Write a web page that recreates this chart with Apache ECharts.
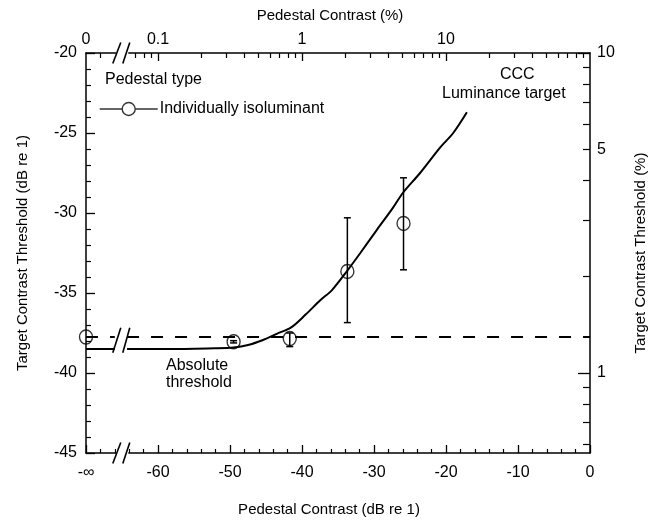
<!DOCTYPE html>
<html><head><meta charset="utf-8">
<script src="https://cdn.jsdelivr.net/npm/echarts@6/dist/echarts.min.js"></script>
<style>html,body{margin:0;padding:0;background:#fff}#c{width:660px;height:523px}</style>
</head><body><div id="c"></div>
<script>
// ---------- data (dB re 1; -70 stands for the "-∞" pedestal) ----------
const pointPedestalDb = [-70, -49.5, -41.7, -33.7, -25.9];
const pointThresholdDb = [-37.75, -38.05, -37.85, -33.65, -30.65];
const errLowDb  = [null, -38.12, -38.35, -36.85, -33.55];
const errHighDb = [null, -37.98, -37.50, -30.30, -27.80];

const curvePedestalDb  = [-70, -66.0, -65.1, -64.3, -58, -52, -49.5, -47.5, -45.5, -43.5, -41.5, -39.5, -37.5, -35.8, -33.7, -31.9, -29.6, -27.4, -26.0, -23.6, -20.8, -19.0, -17.1];
const curveThresholdDb = [-38.5, -38.5, '-', -38.5, -38.5, -38.45, -38.4, -38.25, -37.95, -37.55, -37.15, -36.35, -35.47, -34.8, -33.6, -32.5, -31.05, -29.7, -28.75, -27.5, -25.9, -25.0, -23.7];

const absPedestalDb  = [-70, -66.0, -65.1, -64.3, 0];
const absThresholdDb = [-37.75, -37.75, '-', -37.75, -37.75];

const bottomLabelValues = [-70, -60, -50, -40, -30, -20, -10, 0];
const bottomLabelTexts  = ['-∞', '-60', '-50', '-40', '-30', '-20', '-10', '0'];

const topLabelValues = [-70, -60, -40, -20];
const topLabelTexts  = ['0', '0.1', '1', '10'];
const topMajorPct = [0.1, 1, 10];
const topMinorPct = [0.07, 0.08, 0.09, 0.2, 0.3, 0.4, 0.5, 0.6, 0.7, 0.8, 0.9, 2, 3, 4, 5, 6, 7, 8, 9, 20, 30, 40, 50, 60, 70, 80, 90];
const topExtraMinorDb = [-68];

const rightLabelPct = [1, 5, 10];
const rightMajorPct = [1, 10];
const rightMinorPct = [0.6, 0.7, 0.8, 0.9, 2, 3, 4, 5, 6, 7, 8, 9];

const breakPedestalDb = -65.1;
const breakLineCenterDb = -37.95;

// ---------- helpers ----------
const pctToDb = p => 20 * Math.log10(p / 100);
const dbToPct = d => 100 * Math.pow(10, d / 20);

const FONT = 'Liberation Sans, Arial, Helvetica, sans-serif';
const black = '#000';

const chart = echarts.init(document.getElementById('c'), null, {renderer: 'canvas'});

const baseX = {min: -70, max: 0, splitLine: {show: false}};
const baseY = {min: -45, max: -20, splitLine: {show: false}};

const option = {
  backgroundColor: '#fff',
  animation: false,
  textStyle: {fontFamily: FONT, color: black},
  title: [{
    text: 'Pedestal type', left: 105, top: 72, padding: 0,
    textStyle: {fontFamily: FONT, fontSize: 16, fontWeight: 'normal', color: black}
  }],
  legend: {
    data: [{name: 'Individually isoluminant',
      icon: 'path://M0,7L22.5,7M35.5,7L58,7M22.5,7A6.5,6.5,0,1,1,35.5,7A6.5,6.5,0,1,1,22.5,7'}],
    left: 99, top: 101, padding: 0, itemWidth: 58, itemHeight: 14, itemGap: 0,
    selectedMode: false,
    itemStyle: {color: 'rgba(0,0,0,0)', borderColor: black, borderWidth: 1.4},
    textStyle: {fontFamily: FONT, fontSize: 16, color: black, padding: [0, 0, 0, -3]}
  },
  grid: {left: 86, right: 70, top: 53, bottom: 70, containLabel: false},
  xAxis: [
    Object.assign({}, baseX, {
      type: 'value', position: 'bottom', interval: 10,
      name: 'Pedestal Contrast (dB re 1)', nameLocation: 'middle', nameGap: 49,
      nameTextStyle: {fontFamily: FONT, fontSize: 15, color: black, padding: [0, 18, 0, 0]},
      axisLine: {show: true, onZero: false, lineStyle: {color: black, width: 1.5}},
      axisTick: {show: true, inside: true, length: 8, lineStyle: {color: black, width: 1.3}},
      minorTick: {show: true, splitNumber: 5, length: 4, lineStyle: {color: black, width: 1.2}},
      axisLabel: {margin: 12, fontSize: 16, color: black, fontFamily: FONT,
        formatter: v => { const i = bottomLabelValues.indexOf(v); return i >= 0 ? bottomLabelTexts[i] : ''; }}
    }),
    Object.assign({}, baseX, {
      type: 'value', position: 'top',
      name: 'Pedestal Contrast (%)', nameLocation: 'middle', nameGap: 30,
      nameTextStyle: {fontFamily: FONT, fontSize: 15, color: black, padding: [0, 16, 0, 0]},
      axisLine: {show: true, onZero: false, lineStyle: {color: black, width: 1.5}},
      axisTick: {show: true, inside: true, length: 8, lineStyle: {color: black, width: 1.3},
        customValues: topMajorPct.map(pctToDb)},
      axisLabel: {margin: 5, fontSize: 16, color: black, fontFamily: FONT,
        customValues: topLabelValues,
        formatter: v => { let best = 0; topLabelValues.forEach((t, i) => { if (Math.abs(t - v) < Math.abs(topLabelValues[best] - v)) best = i; }); return topLabelTexts[best]; }}
    }),
    Object.assign({}, baseX, {
      type: 'value', position: 'top',
      axisLine: {show: false, onZero: false},
      axisTick: {show: true, inside: true, length: 5, lineStyle: {color: black, width: 1.2},
        customValues: topMinorPct.map(pctToDb).concat(topExtraMinorDb)},
      axisLabel: {show: false}
    })
  ],
  yAxis: [
    Object.assign({}, baseY, {
      type: 'value', position: 'left', interval: 5,
      name: 'Target Contrast Threshold (dB re 1)', nameLocation: 'middle', nameGap: 56,
      nameTextStyle: {fontFamily: FONT, fontSize: 15, color: black},
      axisLine: {show: true, onZero: false, lineStyle: {color: black, width: 1.5}},
      axisTick: {show: true, inside: true, length: 9, lineStyle: {color: black, width: 1.3}},
      minorTick: {show: true, splitNumber: 5, length: 5, lineStyle: {color: black, width: 1.2}},
      axisLabel: {margin: 9, fontSize: 16, color: black, fontFamily: FONT}
    }),
    Object.assign({}, baseY, {
      type: 'value', position: 'right',
      name: 'Target Contrast Threshold (%)', nameLocation: 'middle', nameGap: 43, nameRotate: 90,
      nameTextStyle: {fontFamily: FONT, fontSize: 15, color: black},
      axisLine: {show: true, onZero: false, lineStyle: {color: black, width: 1.5}},
      axisTick: {show: true, inside: true, length: 12, lineStyle: {color: black, width: 1.3},
        customValues: rightMajorPct.map(pctToDb)},
      axisLabel: {margin: 7, fontSize: 16, color: black, fontFamily: FONT,
        customValues: rightLabelPct.map(pctToDb),
        formatter: v => String(Math.round(dbToPct(v)))}
    }),
    Object.assign({}, baseY, {
      type: 'value', position: 'right',
      axisLine: {show: false, onZero: false},
      axisTick: {show: true, inside: true, length: 7, lineStyle: {color: black, width: 1.2},
        customValues: rightMinorPct.map(pctToDb)},
      axisLabel: {show: false}
    })
  ],
  graphic: [
    {type: 'text', left: 500, top: 67, style: {text: 'CCC', font: '16px ' + FONT, fill: black}},
    {type: 'text', left: 442, top: 86, style: {text: 'Luminance target', font: '16px ' + FONT, fill: black}},
    {type: 'text', left: 166, top: 357, style: {text: 'Absolute\nthreshold', font: '16px ' + FONT, fill: black, lineHeight: 17}}
  ],
  series: [
    {
      name: 'CCC Luminance target', type: 'line', xAxisIndex: 0, yAxisIndex: 0,
      data: curvePedestalDb.map((x, i) => [x, curveThresholdDb[i]]),
      showSymbol: false, symbol: 'none', smooth: 0.3, connectNulls: false,
      lineStyle: {color: black, width: 2}, z: 3, silent: true
    },
    {
      name: 'Absolute threshold', type: 'line', xAxisIndex: 0, yAxisIndex: 0,
      data: absPedestalDb.map((x, i) => [x, absThresholdDb[i]]),
      showSymbol: false, symbol: 'none', connectNulls: false,
      lineStyle: {color: black, width: 2, type: [12, 12]}, z: 3, silent: true
    },
    {
      name: 'error bars', type: 'custom', xAxisIndex: 0, yAxisIndex: 0, z: 4, silent: true,
      data: pointPedestalDb.map((x, i) => [x, errLowDb[i], errHighDb[i]]).filter(d => d[1] !== null),
      renderItem: function (params, api) {
        const x = api.value(0);
        const lo = api.coord([x, api.value(1)]);
        const hi = api.coord([x, api.value(2)]);
        const w = 3.5;
        const style = {stroke: black, lineWidth: 1.5};
        return {type: 'group', children: [
          {type: 'line', shape: {x1: lo[0], y1: lo[1], x2: hi[0], y2: hi[1]}, style: style},
          {type: 'line', shape: {x1: lo[0] - w, y1: lo[1], x2: lo[0] + w, y2: lo[1]}, style: style},
          {type: 'line', shape: {x1: hi[0] - w, y1: hi[1], x2: hi[0] + w, y2: hi[1]}, style: style}
        ]};
      }
    },
    {
      name: 'Individually isoluminant', type: 'scatter', xAxisIndex: 0, yAxisIndex: 0, z: 5,
      data: pointPedestalDb.map((x, i) => [x, pointThresholdDb[i]]),
      symbol: 'circle', symbolSize: [13, 14],
      itemStyle: {color: 'rgba(0,0,0,0)', borderColor: black, borderWidth: 1.4}
    },
    {
      name: 'axis breaks', type: 'custom', xAxisIndex: 0, yAxisIndex: 0, z: 10, silent: true, clip: false,
      data: [[breakPedestalDb, -45, 1], [breakPedestalDb, -20, 1], [breakPedestalDb, breakLineCenterDb, 0]],
      renderItem: function (params, api) {
        const c = api.coord([api.value(0), api.value(1)]);
        const cx = c[0], cy = c[1];
        const h = api.value(2) ? 10.5 : 12.5;
        const style = {stroke: black, lineWidth: 1.6};
        const kids = [];
        if (api.value(2)) {
          kids.push({type: 'rect', shape: {x: cx - 5, y: cy - 5, width: 12, height: 10}, style: {fill: '#fff'}});
        }
        kids.push({type: 'line', shape: {x1: cx - 8.5, y1: cy + h, x2: cx - 0.5, y2: cy - h}, style: style});
        kids.push({type: 'line', shape: {x1: cx + 1.5, y1: cy + h, x2: cx + 8.5, y2: cy - h}, style: style});
        return {type: 'group', children: kids};
      }
    }
  ]
};
chart.setOption(option);
</script>
</body></html>
